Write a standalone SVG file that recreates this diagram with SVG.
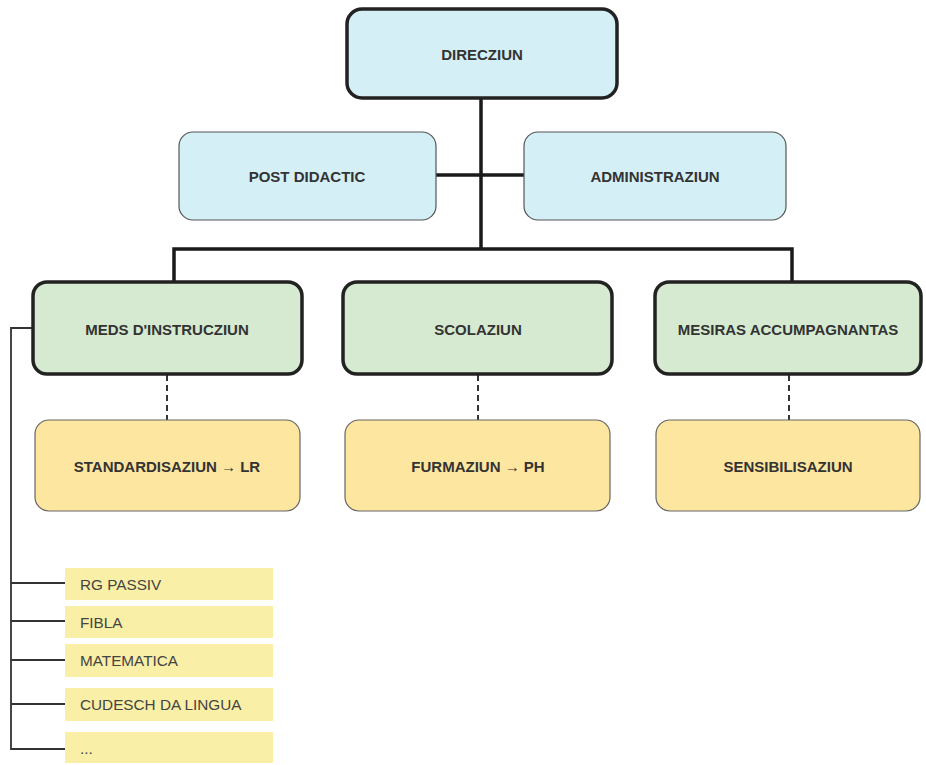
<svg xmlns="http://www.w3.org/2000/svg" width="926" height="765" viewBox="0 0 926 765">
<defs>
<style>
.lbl{font-family:"Liberation Sans",Arial,sans-serif;font-weight:bold;font-size:15px;fill:#333;text-anchor:middle;dominant-baseline:central}
.item{font-family:"Liberation Sans",Arial,sans-serif;font-size:15.3px;fill:#444;dominant-baseline:central}
.top{fill:#d5eff6;stroke:#222;stroke-width:3.5}
.blue{fill:#d5eff6;stroke:#555;stroke-width:1.2}
.green{fill:#d5ead0;stroke:#222;stroke-width:3.5}
.yel{fill:#fde6a0;stroke:#666;stroke-width:1.2}
.li{fill:#f9efa6}
.thick{stroke:#1a1a1a;stroke-width:3.5;fill:none}
.thin{stroke:#333;stroke-width:1.8;fill:none}
.dash{stroke:#333;stroke-width:2;stroke-dasharray:6 4;fill:none}
</style>
</defs>
<rect width="926" height="765" fill="#ffffff"/>
<g id="connectors">
<path class="thick" d="M481 98 V249"/>
<path class="thick" d="M436 175 H524"/>
<path class="thick" d="M174 282 V249 H792 V282"/>
<path class="dash" d="M167 375 V420"/>
<path class="dash" d="M478 375 V420"/>
<path class="dash" d="M789 375 V420"/>
<path class="thin" d="M33 328 H11 V750"/>
<path class="thin" d="M11 583 H65 M11 621 H65 M11 660 H65 M11 704 H65 M11 749 H65"/>
</g>
<g id="direcziun"><rect class="top" x="347" y="9" width="270" height="89" rx="15"/><text class="lbl" x="482" y="54">DIRECZIUN</text></g>
<g id="post-didactic"><rect class="blue" x="179" y="132" width="257" height="88" rx="14"/><text class="lbl" x="307" y="176">POST DIDACTIC</text></g>
<g id="administraziun"><rect class="blue" x="524" y="132" width="262" height="88" rx="14"/><text class="lbl" x="655" y="176">ADMINISTRAZIUN</text></g>
<g id="meds"><rect class="green" x="33" y="282" width="269" height="92" rx="14"/><text class="lbl" x="167" y="329">MEDS D'INSTRUCZIUN</text></g>
<g id="scolaziun"><rect class="green" x="343" y="282" width="269" height="92" rx="14"/><text class="lbl" x="478" y="329">SCOLAZIUN</text></g>
<g id="mesiras"><rect class="green" x="655" y="282" width="266" height="92" rx="14"/><text class="lbl" x="788" y="329">MESIRAS ACCUMPAGNANTAS</text></g>
<g id="standardisaziun"><rect class="yel" x="35" y="420" width="265" height="91" rx="14"/><text class="lbl" x="167" y="466">STANDARDISAZIUN → LR</text></g>
<g id="furmaziun"><rect class="yel" x="345" y="420" width="265" height="91" rx="14"/><text class="lbl" x="478" y="466">FURMAZIUN → PH</text></g>
<g id="sensibilisaziun"><rect class="yel" x="656" y="420" width="264" height="91" rx="14"/><text class="lbl" x="788" y="466">SENSIBILISAZIUN</text></g>
<g id="rg-passiv"><rect class="li" x="65" y="568" width="208" height="32"/><text class="item" x="80" y="584">RG PASSIV</text></g>
<g id="fibla"><rect class="li" x="65" y="606" width="208" height="32"/><text class="item" x="80" y="622">FIBLA</text></g>
<g id="matematica"><rect class="li" x="65" y="644" width="208" height="33"/><text class="item" x="80" y="660">MATEMATICA</text></g>
<g id="cudesch"><rect class="li" x="65" y="688" width="208" height="33"/><text class="item" x="80" y="704">CUDESCH DA LINGUA</text></g>
<g id="more"><rect class="li" x="65" y="732" width="208" height="31"/><text class="item" x="80" y="748">...</text></g>
</svg>
